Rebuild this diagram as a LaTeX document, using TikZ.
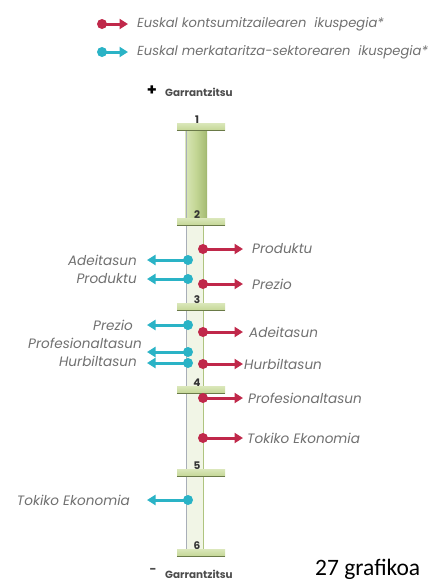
\documentclass[tikz,border=0pt]{standalone}
\usepackage{fontspec}
\setmainfont{Poppins}
\newfontfamily\capfont{Carlito}
\usetikzlibrary{arrows.meta}
\definecolor{rd}{HTML}{C0284A}
\definecolor{cy}{HTML}{2AB3C6}
\definecolor{tx}{HTML}{707070}
\definecolor{gA}{HTML}{D9E6B8}
\definecolor{gB}{HTML}{C3D694}
\definecolor{gC}{HTML}{A3BA72}
\definecolor{gPale}{HTML}{F1F5E6}
\definecolor{gLine}{HTML}{AFC47F}
\definecolor{gDark}{HTML}{6A7A48}
\definecolor{grayline}{HTML}{A8AEB8}
\begin{document}
\begin{tikzpicture}[x=1pt,y=-1pt,
  lbl/.style={font=\fontsize{13.6}{15}\selectfont\itshape, text=tx, inner sep=0pt},
  leg/.style={font=\fontsize{13.1}{15}\selectfont\itshape, text=tx, inner sep=0pt},
  rdot/.style={circle, fill=rd, minimum size=10pt, inner sep=0pt},
  cdot/.style={circle, fill=cy, minimum size=10pt, inner sep=0pt},
  rarr/.style={draw=rd, line width=3pt, -{Triangle[length=8.5pt,width=10pt]}},
  carr/.style={draw=cy, line width=3pt, -{Triangle[length=8.5pt,width=10pt]}},
  tickbar/.style={rectangle, minimum width=48pt, minimum height=7pt, inner sep=0pt, top color=gA, bottom color=gB},
  num/.style={font=\fontsize{10.5}{10}\selectfont\bfseries, text=black!80, inner sep=0pt},
  imp/.style={font=\fontsize{10.4}{11}\selectfont\bfseries, text=black!70, inner sep=0pt}]
\useasboundingbox (0,0) rectangle (444,582);

% legend
\node[rdot] (lr) at (102,24) {};
\coordinate (lrt) at (128,24);
\draw[rarr] (lr.center) -- (lrt);
\node[leg, anchor=west] (lrl) at (137,24) {Euskal kontsumitzailearen\ \ ikuspegia*};
\node[cdot] (lc) at (102,52) {};
\coordinate (lct) at (128,52);
\draw[carr] (lc.center) -- (lct);
\node[leg, anchor=west] (lcl) at (137,52) {Euskal merkataritza-sektorearen\ \ ikuspegia*};

% top / bottom labels
\node[font=\fontsize{16}{16}\selectfont\bfseries, inner sep=0pt] (plus) at (152,91) {+};
\node[imp, anchor=west] (gtop) at (165,92) {Garrantzitsu};
\node[font=\fontsize{12}{12}\selectfont\bfseries, text=black!70, inner sep=0pt] (minus) at (153,571) {-};
\node[imp, anchor=west] (gbot) at (165,574) {Garrantzitsu};

% scale
\fill[gPale] (186,222) rectangle (203.5,553);
\shade[left color=gA, right color=gC, middle color=gB] (185,127) rectangle (207,222);
\draw[grayline, line width=1pt] (186,127) -- (186,553);
\draw[gLine, line width=1.6pt] (203.5,222) -- (203.5,553);
\draw[gC, line width=1pt] (206.5,127) -- (206.5,222);
\foreach \i/\y in {1/127,2/222,3/307,4/390,5/473,6/553}{
  \node[tickbar] (k\i) at (201,\y) {};
  \draw[gDark, line width=1.2pt] (k\i.south west) -- (k\i.south east);
  \node[num] (n\i) at (197,\y-7) {\i};
}

% red arrows (right)
\foreach \n/\y/\tx/\t in {a/249/252/Produktu, b/284/252/Prezio, c/332/249/Adeitasun, d/364/244/Hurbiltasun, e/398/248/Profesionaltasun, f/438/247/Tokiko Ekonomia}{
  \coordinate (rt\n) at (243,\y);
  \draw[rarr] (203,\y) coordinate (rs\n) -- (rt\n);
  \node[rdot] (rd\n) at (rs\n) {};
  \node[lbl, anchor=west] (rl\n) at (\tx,\y) {\t};
}

% cyan arrows (left)
\foreach \n/\y/\ly/\tx/\t in {a/260/260/137/Adeitasun, b/279/279/137/Produktu, c/325/325/133/Prezio, d/352/343/142/Profesionaltasun, e/363/361/137/Hurbiltasun, f/500/500/130/Tokiko Ekonomia}{
  \coordinate (ct\n) at (147,\y);
  \draw[carr] (188,\y) coordinate (cs\n) -- (ct\n);
  \node[cdot] (cd\n) at (cs\n) {};
  \node[lbl, anchor=east] (cl\n) at (\tx,\ly) {\t};
}

% caption
\node[font=\capfont\fontsize{23.5}{24}\selectfont, anchor=base west, inner sep=0pt] (cap) at (315,575.5) {27 grafikoa};
\end{tikzpicture}
\end{document}
